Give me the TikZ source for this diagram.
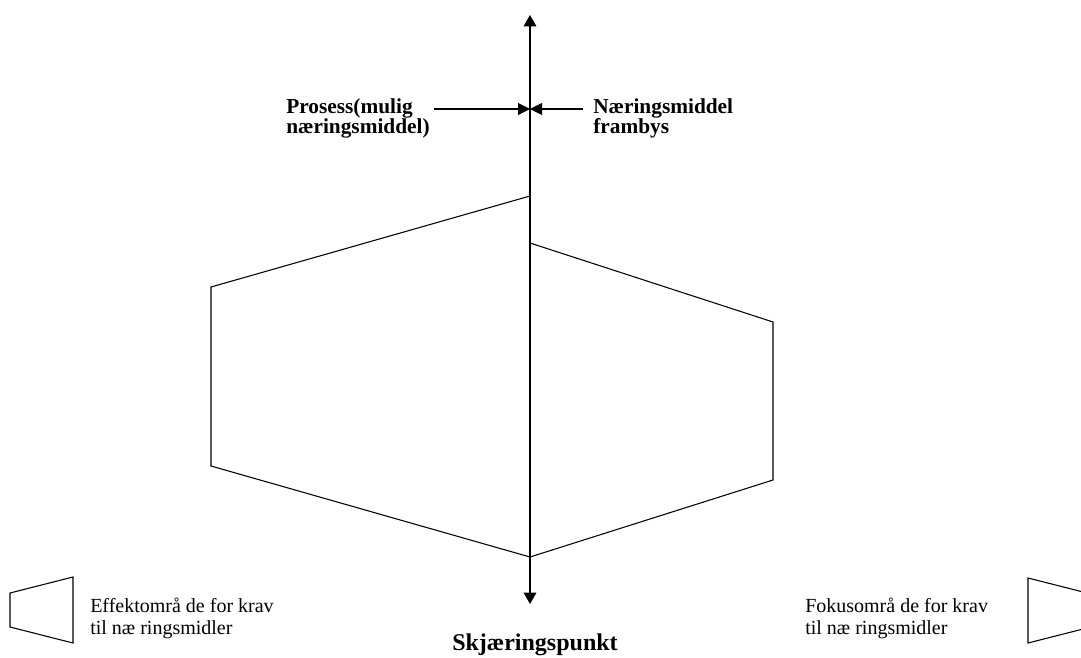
\documentclass[tikz,border=0pt]{standalone}
\usepackage{fontspec}
\setmainfont{Liberation Serif}
\usetikzlibrary{
  arrows.meta,
  positioning
}

\begin{document}
\begin{tikzpicture}[
  x=0.75pt, y=-0.75pt,
  edge/.style={line width=0.8pt},
  pointer/.style={edge, -{Triangle[length=9pt,width=9pt]}},
  axis line/.style={edge, {Triangle[length=8.5pt,width=9.5pt]}-{Triangle[length=8.5pt,width=9.5pt]}},
  head label/.style={font=\fontsize{16}{15}\selectfont\bfseries, align=left, anchor=north west, inner sep=0pt},
  key label/.style={font=\fontsize{15}{16}\selectfont, align=left, anchor=north west, inner sep=0pt},
]
\useasboundingbox (0,0) rectangle (1081,657);
\clip (0,0) rectangle (1081,657);

% Vertical axis
\coordinate (top) at (530,15);
\coordinate (bottom) at (530,604);
\draw[axis line] (bottom) -- (top);

% Left and right areas, meeting on the axis
\coordinate (lt) at (530,196);
\coordinate (ll) at (211,287);
\coordinate (lb) at (211,466);
\coordinate (joint) at (530,557);
\coordinate (rt) at (530,243);
\coordinate (rr) at (773,322);
\coordinate (rb) at (773,480);
\draw[edge] (lt) -- (ll) -- (lb) -- (joint);
\draw[edge] (rt) -- (rr) -- (rb) -- (joint);

% Labels at the top with side arrows
\coordinate (hit) at (530,109);
\coordinate (from left) at (434,109);
\coordinate (from right) at (583,109);
\draw[pointer] (from left) -- (hit);
\draw[pointer] (from right) -- (hit);

\node[head label] (process) at (286,98) {Prosess(mulig\\næringsmiddel)};
\node[head label] (food) at (593,98) {Næringsmiddel\\frambys};

% Crossing point
\node[font=\fontsize{18}{20}\selectfont\bfseries, anchor=base, inner sep=0pt]
  (crossing) at (535,650) {Skjæringspunkt};

% Legend
\draw[edge] (10,593) -- (73,577) -- (73,643) -- (10,627) -- cycle;
\node[key label] (effect key) at (90,598) {Effektområ de for krav\\til næ ringsmidler};

\draw[edge] (1028,578) -- (1091,594) -- (1091,627) -- (1028,643) -- cycle;
\node[key label] (focus key) at (805,598) {Fokusområ de for krav\\til næ ringsmidler};

\end{tikzpicture}
\end{document}
